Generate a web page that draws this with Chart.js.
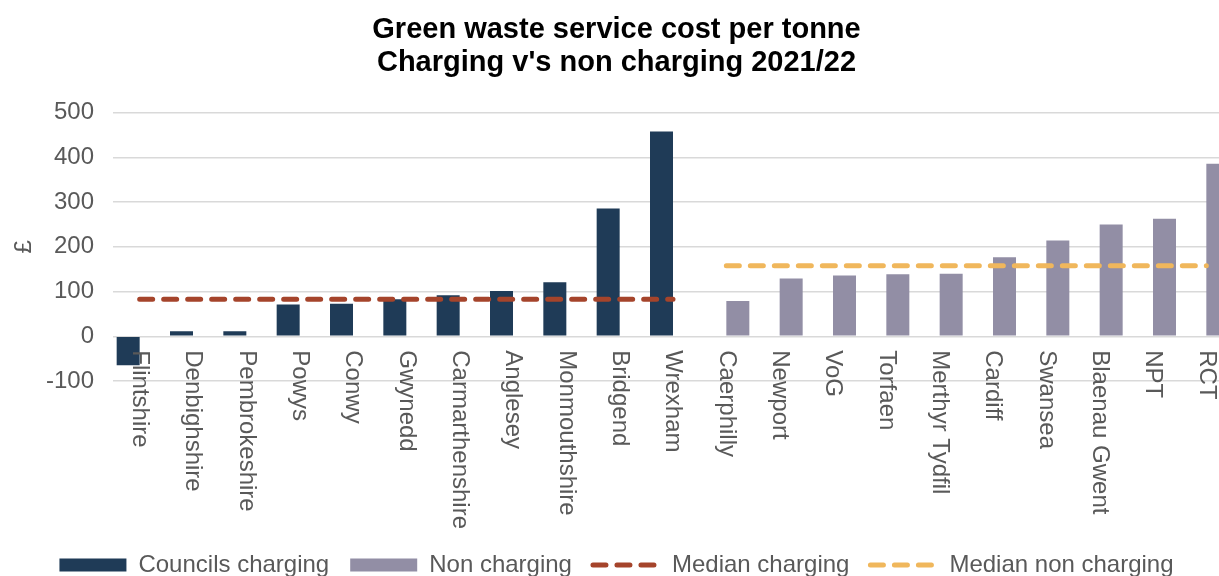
<!DOCTYPE html>
<html>
<head>
<meta charset="utf-8">
<script src="https://cdn.jsdelivr.net/npm/chart.js@4/dist/chart.umd.min.js"></script>
<style>
  html, body { margin: 0; padding: 0; background: #fff; overflow: hidden; }
  #wrap { width: 1235px; height: 587px; }
</style>
</head>
<body>
<div id="wrap"><canvas id="wasteChart"></canvas></div>
<script>
// Councils and cost per tonne (£)
const councils = ['Flintshire', 'Denbighshire', 'Pembrokeshire', 'Powys', 'Conwy', 'Gwynedd',
    'Carmarthenshire', 'Anglesey', 'Monmouthshire', 'Bridgend', 'Wrexham',
    'Caerphilly', 'Newport', 'VoG', 'Torfaen', 'Merthyr Tydfil', 'Cardiff', 'Swansea',
    'Blaenau Gwent', 'NPT', 'RCT'];
const chargingCost = [-65, 11, 11, 71, 73, 83, 92, 101, 121, 286, 458,
    null, null, null, null, null, null, null, null, null, null];
const nonChargingCost = [null, null, null, null, null, null, null, null, null, null, null,
    79, 129, 136, 139, 140, 177, 214, 250, 263, 386];
const medianCharging = [83, 83, 83, 83, 83, 83, 83, 83, 83, 83, 83,
    null, null, null, null, null, null, null, null, null, null];
const medianNonCharging = [null, null, null, null, null, null, null, null, null, null, null,
    158, 158, 158, 158, 158, 158, 158, 158, 158, 158];
const yTicks = [-100, 0, 100, 200, 300, 400, 500];

const FONT = "'Liberation Sans', Arial, sans-serif";
const GREY = '#595959';

// x labels read top-to-bottom, hanging just under the zero line
const verticalLabels = {
    id: 'verticalLabels',
    afterDatasetsDraw(chart) {
        const ctx = chart.ctx;
        const xs = chart.scales.x, ys = chart.scales.y;
        const top = ys.getPixelForValue(0) + 14;
        ctx.save();
        ctx.font = '24px ' + FONT;
        ctx.fillStyle = GREY;
        ctx.textAlign = 'left';
        ctx.textBaseline = 'middle';
        councils.forEach((name, i) => {
            ctx.save();
            ctx.translate(xs.getPixelForValue(i), top);
            ctx.rotate(Math.PI / 2);
            ctx.fillText(name, 0, 0);
            ctx.restore();
        });
        ctx.restore();
    }
};

const ctx = document.getElementById('wasteChart').getContext('2d');
const wasteChart = new Chart(ctx, {
    type: 'bar',
    data: {
        labels: councils,
        datasets: [{
            label: 'Councils charging',
            data: chargingCost,
            backgroundColor: '#1f3b57',
            categoryPercentage: 0.8625,
            barPercentage: 1,
            order: 2
        }, {
            label: 'Non charging',
            data: nonChargingCost,
            backgroundColor: '#928ea5',
            categoryPercentage: 0.8625,
            barPercentage: 1,
            order: 2
        }, {
            type: 'line',
            label: 'Median charging',
            data: medianCharging,
            borderColor: '#a5442b',
            borderWidth: 5,
            borderDash: [13, 11],
            borderCapStyle: 'round',
            pointRadius: 0,
            fill: false,
            spanGaps: false,
            order: 1
        }, {
            type: 'line',
            label: 'Median non charging',
            data: medianNonCharging,
            borderColor: '#f0b75c',
            borderWidth: 5,
            borderDash: [13, 11],
            borderCapStyle: 'round',
            pointRadius: 0,
            fill: false,
            spanGaps: false,
            order: 1
        }]
    },
    options: {
        responsive: true,
        maintainAspectRatio: false,
        animation: false,
        layout: { padding: { left: 0, right: 2, top: 0, bottom: 0 } },
        scales: {
            x: {
                grid: { display: false },
                border: { display: false },
                ticks: { display: false },
                afterFit: s => { s.height = 151; }
            },
            y: {
                min: -100,
                max: 500,
                afterBuildTicks: s => { s.ticks = yTicks.map(v => ({ value: v })); },
                grid: { color: '#d9d9d9', lineWidth: 1.5, drawTicks: false },
                border: { display: false },
                ticks: { color: GREY, padding: 19, font: { family: FONT, size: 24 } },
                title: {
                    display: true,
                    text: '£',
                    color: GREY,
                    padding: { top: 10, bottom: 0 },
                    font: { family: FONT, size: 24 }
                },
                afterFit: s => { s.width = 113; }
            }
        },
        plugins: {
            title: {
                display: true,
                text: ['Green waste service cost per tonne', "Charging v's non charging 2021/22"],
                color: '#000',
                font: { family: FONT, size: 29, weight: 'bold', lineHeight: 1.15 },
                padding: { top: 13, bottom: 33 }
            },
            legend: {
                position: 'bottom',
                labels: {
                    color: GREY,
                    font: { family: FONT, size: 24 },
                    usePointStyle: true,
                    pointStyleWidth: 67,
                    boxHeight: 13,
                    padding: 21,
                    generateLabels: chart => chart.data.datasets.map((ds, i) => {
                        const isLine = ds.type === 'line';
                        return {
                            text: ds.label,
                            datasetIndex: i,
                            fontColor: GREY,
                            pointStyle: isLine ? 'line' : 'rect',
                            fillStyle: isLine ? 'rgba(0,0,0,0)' : ds.backgroundColor,
                            strokeStyle: isLine ? ds.borderColor : ds.backgroundColor,
                            lineWidth: isLine ? 5 : 0,
                            lineDash: isLine ? [13, 11] : [],
                            lineCap: isLine ? 'round' : 'butt',
                            hidden: !chart.isDatasetVisible(i)
                        };
                    })
                }
            },
            tooltip: { enabled: false }
        }
    },
    plugins: [verticalLabels]
});
</script>
</body>
</html>
